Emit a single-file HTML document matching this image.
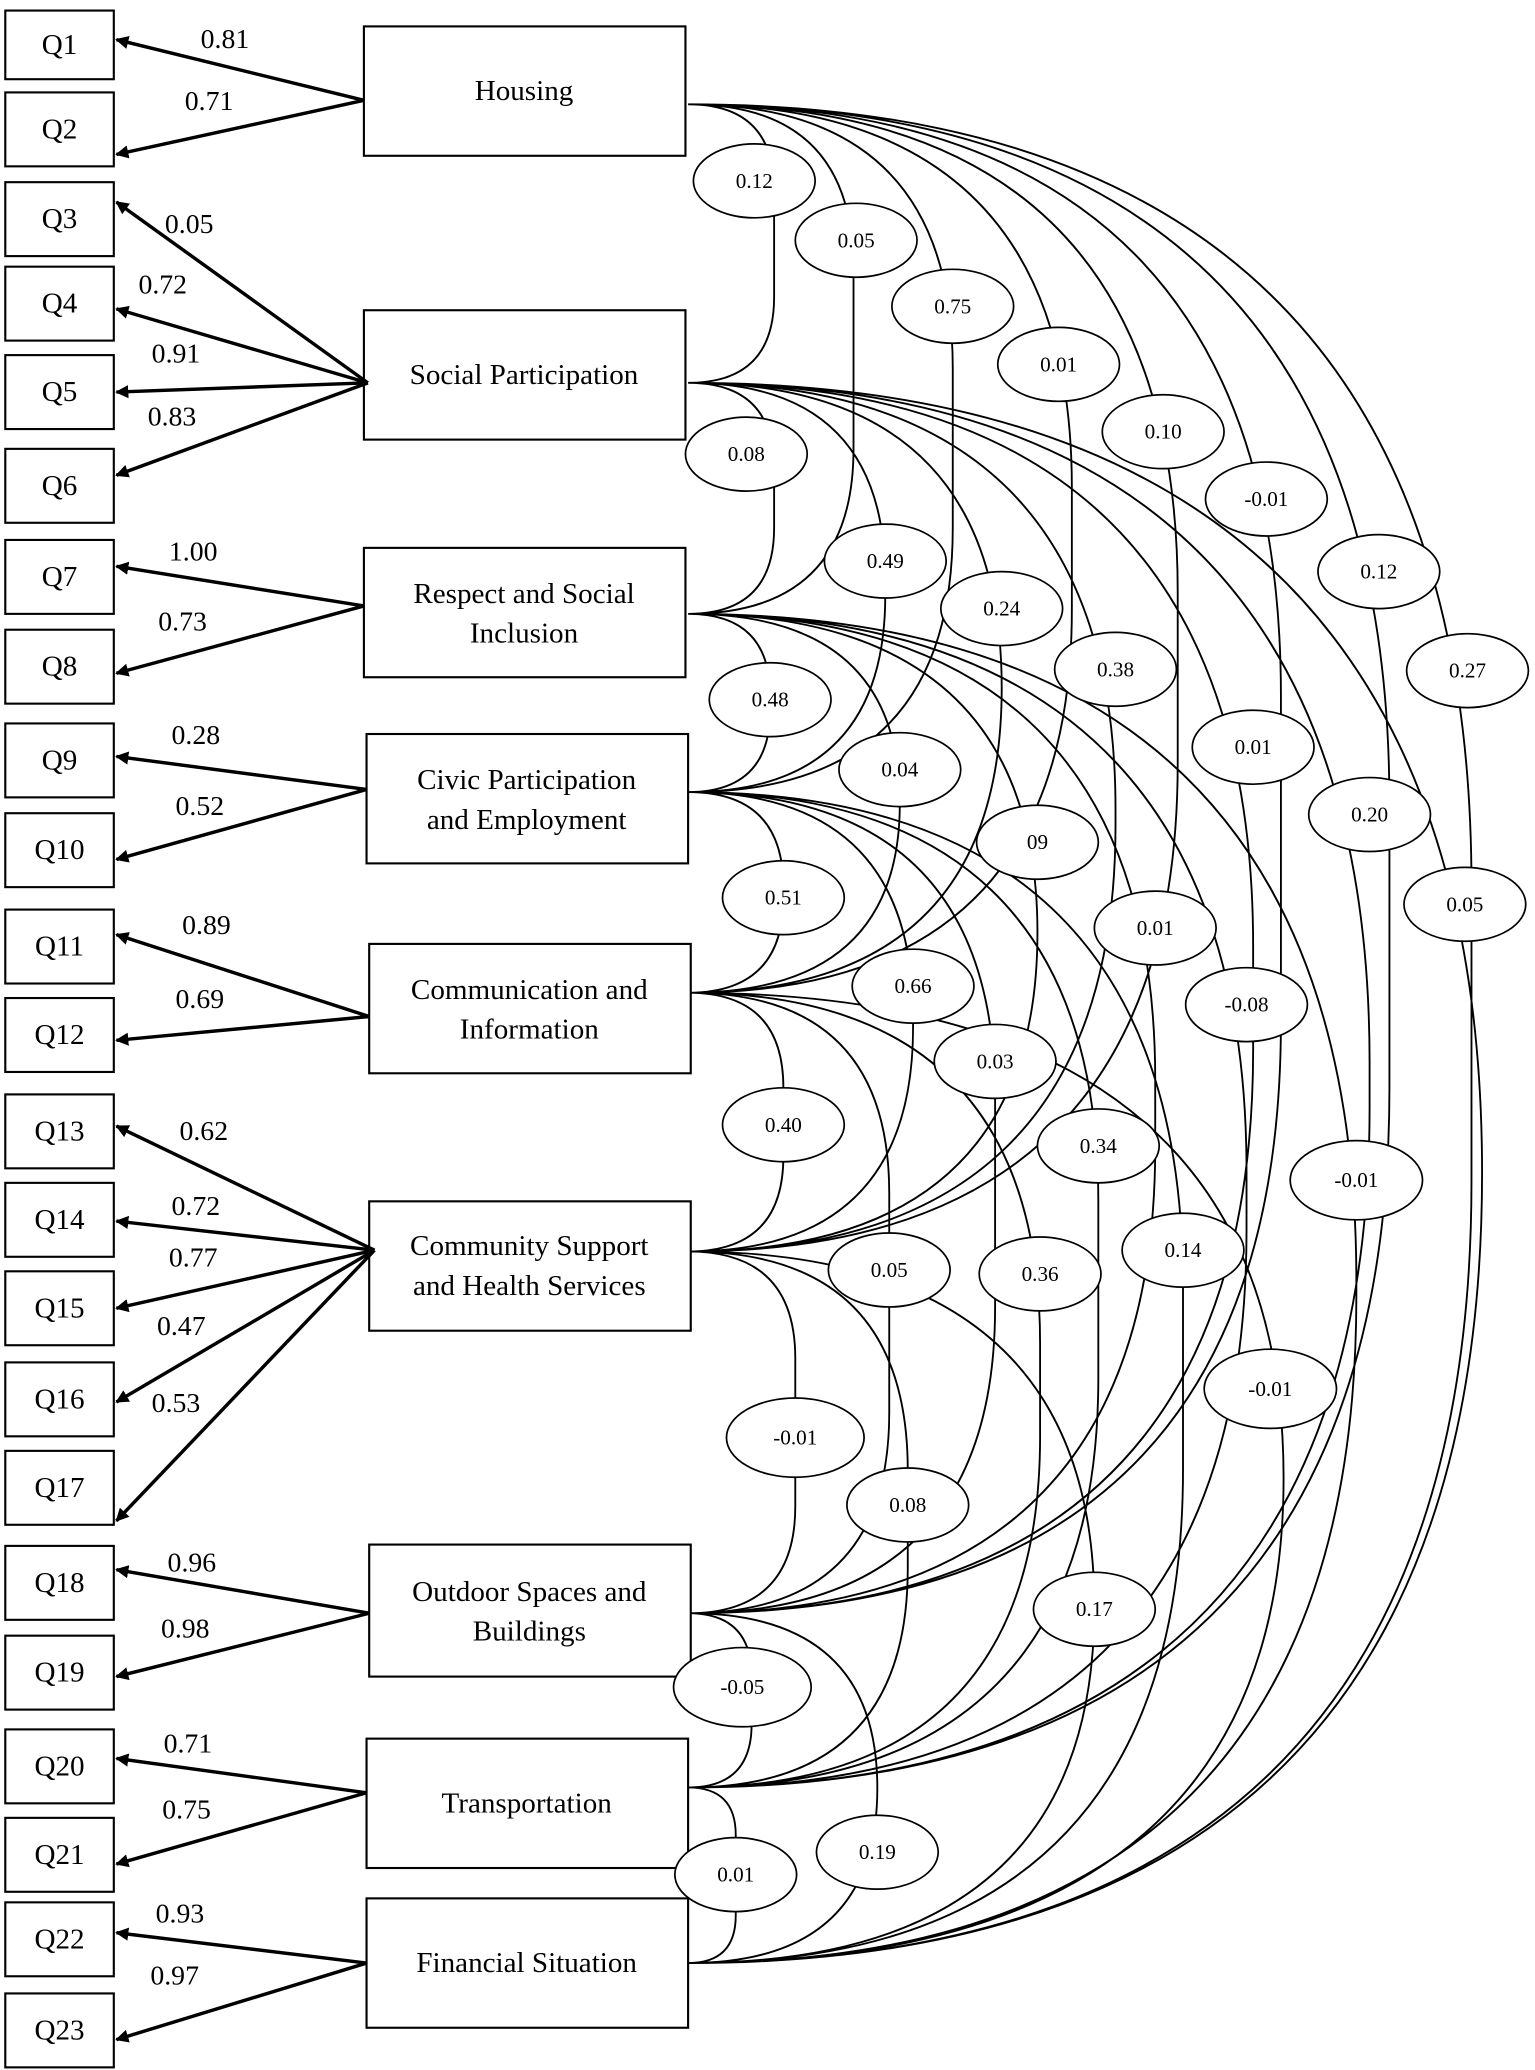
<!DOCTYPE html>
<html><head><meta charset="utf-8"><style>
html,body{margin:0;padding:0;background:#fff;}
svg{display:block;}
text{font-family:"Liberation Serif",serif;fill:#000;}
.q{font-size:22px;text-anchor:middle;dominant-baseline:central;}
.f{font-size:22px;text-anchor:middle;dominant-baseline:central;}
.l{font-size:21px;text-anchor:middle;dominant-baseline:central;}
.e{font-size:16px;text-anchor:middle;dominant-baseline:central;}
</style></head><body>
<svg id="s" width="1535" height="2070" viewBox="0 0 1160 1568" preserveAspectRatio="none" xmlns="http://www.w3.org/2000/svg">
<defs><marker id="a" markerWidth="10" markerHeight="10" refX="9" refY="5" orient="auto" markerUnits="userSpaceOnUse"><path d="M0,0 L10,5 L0,10 z" fill="#000"/></marker></defs>
<g id="curves" fill="none" stroke="#000" stroke-width="1.4"></g>
<g fill="#fff" stroke="#000" stroke-width="1.6">
<rect x="4" y="8" width="82" height="52"/><rect x="4" y="70" width="82" height="56"/>
<rect x="4" y="138" width="82" height="56"/><rect x="4" y="202" width="82" height="56"/>
<rect x="4" y="269" width="82" height="56"/><rect x="4" y="340" width="82" height="56"/>
<rect x="4" y="409" width="82" height="56"/><rect x="4" y="477" width="82" height="56"/>
<rect x="4" y="548" width="82" height="56"/><rect x="4" y="616" width="82" height="56"/>
<rect x="4" y="689" width="82" height="56"/><rect x="4" y="756" width="82" height="56"/>
<rect x="4" y="829" width="82" height="56"/><rect x="4" y="896" width="82" height="56"/>
<rect x="4" y="963" width="82" height="56"/><rect x="4" y="1032" width="82" height="56"/>
<rect x="4" y="1099" width="82" height="56"/><rect x="4" y="1171" width="82" height="56"/>
<rect x="4" y="1239" width="82" height="56"/><rect x="4" y="1310" width="82" height="56"/>
<rect x="4" y="1377" width="82" height="56"/><rect x="4" y="1441" width="82" height="56"/>
<rect x="4" y="1510" width="82" height="56"/>
<rect x="275" y="20" width="243" height="98"/>
<rect x="275" y="235" width="243" height="98"/>
<rect x="275" y="415" width="243" height="98"/>
<rect x="277" y="556" width="243" height="98"/>
<rect x="279" y="715" width="243" height="98"/>
<rect x="279" y="910" width="243" height="98"/>
<rect x="279" y="1170" width="243" height="100"/>
<rect x="277" y="1317" width="243" height="98"/>
<rect x="277" y="1438" width="243" height="98"/>
</g>
<g stroke="#000" stroke-width="2.6" marker-end="url(#a)">
<line x1="275" y1="76" x2="88" y2="30"/><line x1="275" y1="76" x2="88" y2="117"/>
<line x1="278" y1="290" x2="88" y2="153"/><line x1="278" y1="290" x2="88" y2="234"/>
<line x1="278" y1="290" x2="88" y2="297"/><line x1="278" y1="290" x2="88" y2="360"/>
<line x1="275" y1="459" x2="88" y2="429"/><line x1="275" y1="459" x2="88" y2="510"/>
<line x1="277" y1="598" x2="88" y2="573"/><line x1="277" y1="598" x2="88" y2="651"/>
<line x1="279" y1="770" x2="88" y2="708"/><line x1="279" y1="770" x2="88" y2="788"/>
<line x1="283" y1="947" x2="88" y2="853"/><line x1="283" y1="947" x2="88" y2="925"/>
<line x1="283" y1="947" x2="88" y2="991"/><line x1="283" y1="947" x2="88" y2="1062"/>
<line x1="283" y1="947" x2="88" y2="1152"/>
<line x1="279" y1="1222" x2="88" y2="1189"/><line x1="279" y1="1222" x2="88" y2="1270"/>
<line x1="277" y1="1358" x2="88" y2="1332"/><line x1="277" y1="1358" x2="88" y2="1412"/>
<line x1="277" y1="1487" x2="88" y2="1464"/><line x1="277" y1="1487" x2="88" y2="1545"/>
</g>
<text class="q" x="45" y="34">Q1</text><text class="q" x="45" y="98">Q2</text>
<text class="q" x="45" y="166">Q3</text><text class="q" x="45" y="230">Q4</text>
<text class="q" x="45" y="297">Q5</text><text class="q" x="45" y="368">Q6</text>
<text class="q" x="45" y="437">Q7</text><text class="q" x="45" y="505">Q8</text>
<text class="q" x="45" y="576">Q9</text><text class="q" x="45" y="644">Q10</text>
<text class="q" x="45" y="717">Q11</text><text class="q" x="45" y="784">Q12</text>
<text class="q" x="45" y="857">Q13</text><text class="q" x="45" y="924">Q14</text>
<text class="q" x="45" y="991">Q15</text><text class="q" x="45" y="1060">Q16</text>
<text class="q" x="45" y="1127">Q17</text><text class="q" x="45" y="1199">Q18</text>
<text class="q" x="45" y="1267">Q19</text><text class="q" x="45" y="1338">Q20</text>
<text class="q" x="45" y="1405">Q21</text><text class="q" x="45" y="1469">Q22</text>
<text class="q" x="45" y="1538">Q23</text>
<text class="f" x="396" y="69">Housing</text>
<text class="f" x="396" y="284">Social Participation</text>
<text class="f" x="396" y="450">Respect and Social</text><text class="f" x="396" y="480">Inclusion</text>
<text class="f" x="398" y="591">Civic Participation</text><text class="f" x="398" y="621">and Employment</text>
<text class="f" x="400" y="750">Communication and</text><text class="f" x="400" y="780">Information</text>
<text class="f" x="400" y="944">Community Support</text><text class="f" x="400" y="974">and Health Services</text>
<text class="f" x="400" y="1206">Outdoor Spaces and</text><text class="f" x="400" y="1236">Buildings</text>
<text class="f" x="398" y="1366">Transportation</text>
<text class="f" x="398" y="1487">Financial Situation</text>
<text class="l" x="170" y="30">0.81</text><text class="l" x="158" y="77">0.71</text>
<text class="l" x="143" y="170">0.05</text><text class="l" x="123" y="216">0.72</text>
<text class="l" x="133" y="268">0.91</text><text class="l" x="130" y="316">0.83</text>
<text class="l" x="146" y="418">1.00</text><text class="l" x="138" y="471">0.73</text>
<text class="l" x="148" y="557">0.28</text><text class="l" x="151" y="611">0.52</text>
<text class="l" x="156" y="701">0.89</text><text class="l" x="151" y="757">0.69</text>
<text class="l" x="154" y="857">0.62</text><text class="l" x="148" y="914">0.72</text>
<text class="l" x="146" y="953">0.77</text><text class="l" x="137" y="1005">0.47</text>
<text class="l" x="133" y="1063">0.53</text><text class="l" x="145" y="1184">0.96</text>
<text class="l" x="140" y="1234">0.98</text><text class="l" x="142" y="1321">0.71</text>
<text class="l" x="141" y="1371">0.75</text><text class="l" x="136" y="1450">0.93</text>
<text class="l" x="132" y="1497">0.97</text>
<g fill="#fff" stroke="#000" stroke-width="1.3">
<ellipse cx="570" cy="137" rx="46" ry="28"/><ellipse cx="647" cy="182" rx="46" ry="28"/>
<ellipse cx="720" cy="232" rx="46" ry="28"/><ellipse cx="800" cy="276" rx="46" ry="28"/>
<ellipse cx="879" cy="327" rx="46" ry="28"/><ellipse cx="957" cy="378" rx="46" ry="28"/>
<ellipse cx="1042" cy="433" rx="46" ry="28"/><ellipse cx="1109" cy="508" rx="46" ry="28"/>
<ellipse cx="564" cy="344" rx="46" ry="28"/><ellipse cx="669" cy="425" rx="46" ry="28"/>
<ellipse cx="757" cy="461" rx="46" ry="28"/><ellipse cx="843" cy="507" rx="46" ry="28"/>
<ellipse cx="947" cy="566" rx="46" ry="28"/><ellipse cx="1035" cy="617" rx="46" ry="28"/>
<ellipse cx="1107" cy="685" rx="46" ry="28"/>
<ellipse cx="582" cy="530" rx="46" ry="28"/><ellipse cx="680" cy="583" rx="46" ry="28"/>
<ellipse cx="784" cy="638" rx="46" ry="28"/><ellipse cx="873" cy="703" rx="46" ry="28"/>
<ellipse cx="942" cy="761" rx="46" ry="28"/><ellipse cx="1025" cy="894" rx="50" ry="30"/>
<ellipse cx="592" cy="680" rx="46" ry="28"/><ellipse cx="690" cy="747" rx="46" ry="28"/>
<ellipse cx="752" cy="804" rx="46" ry="28"/><ellipse cx="830" cy="868" rx="46" ry="28"/>
<ellipse cx="894" cy="947" rx="46" ry="28"/><ellipse cx="960" cy="1052" rx="50" ry="30"/>
<ellipse cx="592" cy="852" rx="46" ry="28"/><ellipse cx="672" cy="962" rx="46" ry="28"/>
<ellipse cx="786" cy="965" rx="46" ry="28"/><ellipse cx="827" cy="1219" rx="46" ry="28"/>
<ellipse cx="601" cy="1089" rx="52" ry="30"/><ellipse cx="686" cy="1140" rx="46" ry="28"/>
<ellipse cx="561" cy="1278" rx="52" ry="30"/><ellipse cx="663" cy="1403" rx="46" ry="28"/>
<ellipse cx="556" cy="1420" rx="46" ry="28"/>
</g>
<text class="e" x="570" y="137">0.12</text><text class="e" x="647" y="182">0.05</text>
<text class="e" x="720" y="232">0.75</text><text class="e" x="800" y="276">0.01</text>
<text class="e" x="879" y="327">0.10</text><text class="e" x="957" y="378">-0.01</text>
<text class="e" x="1042" y="433">0.12</text><text class="e" x="1109" y="508">0.27</text>
<text class="e" x="564" y="344">0.08</text><text class="e" x="669" y="425">0.49</text>
<text class="e" x="757" y="461">0.24</text><text class="e" x="843" y="507">0.38</text>
<text class="e" x="947" y="566">0.01</text><text class="e" x="1035" y="617">0.20</text>
<text class="e" x="1107" y="685">0.05</text>
<text class="e" x="582" y="530">0.48</text><text class="e" x="680" y="583">0.04</text>
<text class="e" x="784" y="638">09</text><text class="e" x="873" y="703">0.01</text>
<text class="e" x="942" y="761">-0.08</text><text class="e" x="1025" y="894">-0.01</text>
<text class="e" x="592" y="680">0.51</text><text class="e" x="690" y="747">0.66</text>
<text class="e" x="752" y="804">0.03</text><text class="e" x="830" y="868">0.34</text>
<text class="e" x="894" y="947">0.14</text><text class="e" x="960" y="1052">-0.01</text>
<text class="e" x="592" y="852">0.40</text><text class="e" x="672" y="962">0.05</text>
<text class="e" x="786" y="965">0.36</text><text class="e" x="827" y="1219">0.17</text>
<text class="e" x="601" y="1089">-0.01</text><text class="e" x="686" y="1140">0.08</text>
<text class="e" x="561" y="1278">-0.05</text><text class="e" x="663" y="1403">0.19</text>
<text class="e" x="556" y="1420">0.01</text>
</svg>
<script>
(function(){
var ys=[79,290,465,600,752,948,1222,1354,1487];
var xs=[[585,645,720,810,890,968,1050,1112],[585,669,757,843,947,1035,1120],[582,680,784,873,942,1025],[592,690,752,830,894],[592,672,786,970],[601,686,827],[568,663],[556]];
var g=document.getElementById('curves'),d='';
for(var i=0;i<8;i++){for(var k=0;k<xs[i].length;k++){var j=i+1+k,X=xs[i][k],y1=ys[i],y2=ys[j],x0=520;
var R=Math.min(X-x0,(y2-y1)/2);
d+='M'+x0+' '+y1+' Q'+X+' '+y1+' '+X+' '+(y1+R)+' L'+X+' '+(y2-R)+' Q'+X+' '+y2+' '+x0+' '+y2+' ';}}
var p=document.createElementNS('http://www.w3.org/2000/svg','path');p.setAttribute('d',d);g.appendChild(p);
})();
</script>
</body></html>
